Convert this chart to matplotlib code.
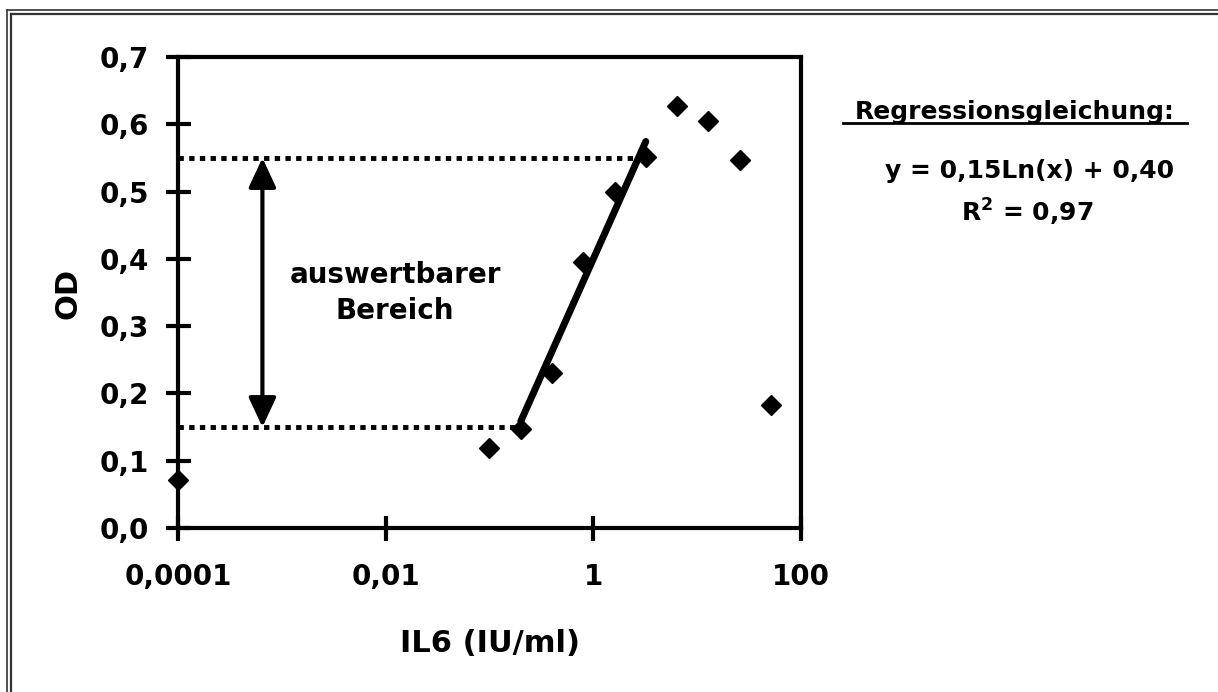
import matplotlib
matplotlib.use("Agg")
import matplotlib.pyplot as plt
from matplotlib.lines import Line2D
import numpy as np

# IL6 standard series (blank plotted at 0.0001)
il6 = [0.0001, 0.1, 0.2, 0.4, 0.8, 1.6, 3.2, 6.4, 12.8, 25.6, 51.2]
od = [0.071, 0.119, 0.147, 0.230, 0.395, 0.499, 0.551, 0.627, 0.605, 0.547, 0.183]

# regression y = 0.15 ln(x) + 0.40 over the usable range
fit_a, fit_b = 0.15, 0.40
fit_x = np.array([0.2, 3.2])
fit_y = fit_a * np.log(fit_x) + fit_b

# usable range limits
range_low, range_high = 0.15, 0.55
arrow_x = 6.5e-4

xticks = [0.0001, 0.01, 1, 100]
xticklabels = ['0,0001', '0,01', '1', '100']
yticks = [0.0, 0.1, 0.2, 0.3, 0.4, 0.5, 0.6, 0.7]
yticklabels = ['0,0', '0,1', '0,2', '0,3', '0,4', '0,5', '0,6', '0,7']

plt.rcParams['font.family'] = ['DejaVu Sans']
plt.rcParams['font.weight'] = 'bold'

W, H = 1218, 692
fig = plt.figure(figsize=(W / 100, H / 100), dpi=100)
ax = fig.add_axes([178 / W, 1 - 528 / H, (801 - 178) / W, (528 - 57) / H])

# dotted limits
ax.plot([xticks[0], fit_x[1]], [range_high, range_high], color='black', lw=3.5,
        linestyle=(0, (1.1, 1.1)), dash_capstyle='butt')
ax.plot([xticks[0], fit_x[0]], [range_low, range_low], color='black', lw=3.5,
        linestyle=(0, (1.1, 1.1)), dash_capstyle='butt')

# regression line
ax.plot(fit_x, fit_y, color='black', lw=5, solid_capstyle='round')

# data points
ax.plot(il6, od, linestyle='none', marker='D', ms=10.5, color='black', clip_on=False, zorder=5)

# double arrow
ax.annotate('', xy=(arrow_x, range_high), xytext=(arrow_x, range_low),
            arrowprops=dict(arrowstyle='<|-|>,head_length=0.6,head_width=0.28', lw=3,
                            color='black', mutation_scale=30, shrinkA=0, shrinkB=0))
ax.text(0.0123, 0.349, 'auswertbarer\nBereich', ha='center', va='center', fontsize=20,
        fontweight='bold', linespacing=1.35)

ax.set_xscale('log')
ax.set_xlim(1e-4, 100)
ax.set_ylim(0, 0.7)
ax.set_xticks(xticks)
ax.set_xticklabels(xticklabels)
ax.set_yticks(yticks)
ax.set_yticklabels(yticklabels)
ax.minorticks_off()
ax.tick_params(axis='both', direction='inout', length=18, width=3, labelsize=20)
ax.tick_params(axis='x', pad=16)
ax.tick_params(axis='y', pad=12)
for lab in ax.get_xticklabels() + ax.get_yticklabels():
    lab.set_fontweight('bold')
for s in ax.spines.values():
    s.set_linewidth(3)

fig.text(490 / W, 1 - 643 / H, 'IL6 (IU/ml)', ha='center', va='center', fontsize=22, fontweight='bold')
fig.text(68 / W, 1 - 293 / H, 'OD', ha='center', va='center', rotation=90, fontsize=22, fontweight='bold')

t = fig.text(1015 / W, 1 - 112 / H, 'Regressionsgleichung:', ha='center', va='center',
             fontsize=18, fontweight='bold')
fig.add_artist(Line2D([843 / W, 1187 / W], [1 - 123 / H, 1 - 123 / H], color='black', lw=2))
fig.text(1030 / W, 1 - 171 / H, 'y = 0,15Ln(x) + 0,40', ha='center', va='center',
         fontsize=18, fontweight='bold')
fig.text(1027 / W, 1 - 212 / H, 'R$^{\\mathbf{2}}$ = 0,97', ha='center', va='center',
         fontsize=18, fontweight='bold')

# double frame round the figure (left and top edges visible)
for px, lw in [(7, 1.2), (11, 1.6)]:
    fig.add_artist(Line2D([px / W, px / W], [0, 1 - (px + 3) / H], color='#333333', lw=lw))
    fig.add_artist(Line2D([px / W, 1], [1 - (px + 3) / H, 1 - (px + 3) / H], color='#333333', lw=lw))

plt.savefig('out.png', dpi=100)
